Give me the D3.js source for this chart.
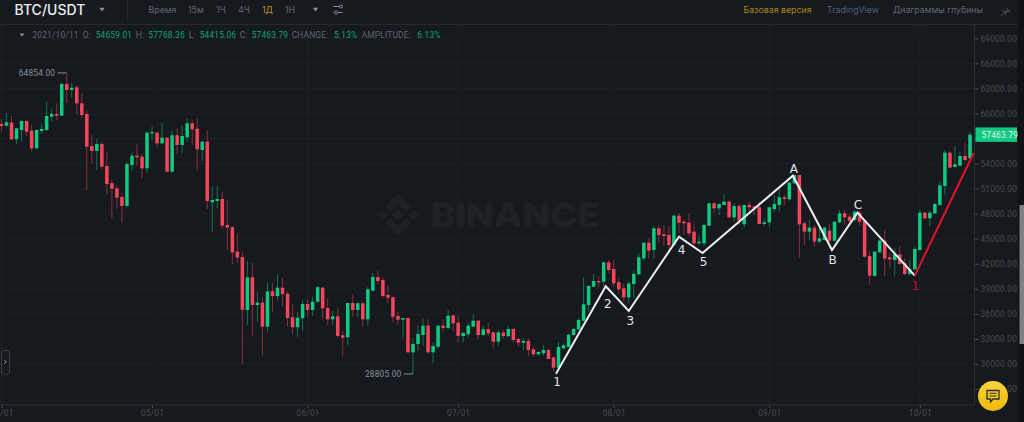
<!DOCTYPE html>
<html>
<head>
<meta charset="utf-8">
<script src="https://cdn.jsdelivr.net/npm/d3@7"></script>
<style>
html, body { margin: 0; padding: 0; background: #161a1e; overflow: hidden; }
svg { display: block; }
text { font-family: Inter, "Noto Sans", sans-serif; }
.wave { font-family: "DejaVu Sans", sans-serif; font-size: 12px; text-anchor: middle; dominant-baseline: central; }
.num { font-family: Roboto, sans-serif; font-size: 8.4px; letter-spacing: 0.02em; }
</style>
</head>
<body>
<div id="graphic"></div>
<script>
// daily candles, 2021/04/01 .. 2021/10/11
var firstDay = new Date(Date.UTC(2021, 3, 1));
var lastDay = new Date(Date.UTC(2021, 9, 11));
var open = [58739,58540,58899,56904,58021,59098,57941,55826,57901,58021,59617,59937,59737,63528,62810,63129,61214,59937,56105,55507,
56344,53711,51636,51037,49999,48922,53830,54948,54828,53431,57622,57702,56425,57103,53032,57383,56225,57143,58819,58181,
55626,56624,49360,49520,49760,46646,46366,43450,42800,36470,40380,37060,37350,34470,38700,38140,39140,38420,35590,34400,
35480,37190,36470,37460,39140,36710,35350,35710,33440,33200,37310,36470,37270,35350,38790,40420,40060,38260,37990,35750,
35310,35510,31400,32400,33470,34590,31400,32080,34590,34310,35830,34952,33356,33555,34473,35191,33475,34154,33795,32677,
33755,33316,34194,32996,32557,32757,31759,31160,31280,31679,30761,29564,31879,32038,33475,34154,35191,37067,39262,39941,
39861,42176,41378,39781,39063,37985,39581,40739,42655,44530,43653,46248,45529,45449,44252,47764,47046,46926,45848,44451,
44451,46567,49241,48642,49041,49440,47565,48921,46726,49041,48842,48762,46766,46966,48562,49041,49959,49720,51635,52633,
46846,45848,46327,44651,44850,45968,44770,46966,48043,47644,47245,48123,47125,42935,40540,43374,44771,42776,42456,43134,
42057,40780,41338,43653,48123,47444,48043,49041,51316,55307,53591,53751,54908,54659.01];
var high = [59298,60096,59697,58300,59178,59218,58620,58101,58819,61413,60615,61214,63688,64854,63688,63409,62411,60336,57422,56943,
56624,55427,52034,51316,50438,54230,55307,56345,55147,57822,58420,57822,58899,57103,57941,58221,58540,59418,59218,59418,
56704,57941,51236,51356,50638,49640,46520,45600,43500,42300,42060,38660,38060,39800,39700,40740,40260,38700,37150,36270,
37650,37780,38060,39380,39200,37780,36350,36750,33950,37310,38340,37400,37400,39250,40920,41180,40400,39420,38060,36290,
35510,35510,33080,34670,35470,35350,32560,34590,35350,36470,35830,35790,33870,34872,35870,35271,34553,34952,33875,34074,
34074,34553,34274,33156,33076,33076,32078,31520,32238,31759,30961,32677,32477,33595,34353,35470,40380,39462,40779,40460,
42256,42455,42455,40380,39661,39860,41178,43254,44530,45049,46527,46647,46647,46527,47843,48044,47325,48044,46847,45449,
46847,49321,49441,49241,50358,49640,49241,49161,49121,49441,49041,49441,47445,48842,50238,50917,50238,51835,52633,52633,
47046,47245,46647,46248,46447,46846,47046,48442,48442,47964,48442,48362,47245,43533,43534,44931,46048,43254,43853,44132,
42656,42456,44053,48442,48243,48340,49320,51835,55626,55428,56025,55427,56504,57768.36];
var low = [57821,58420,56824,56345,56624,57303,55427,55706,57542,57901,59098,59218,59697,61214,61892,59897,59418,50837,54030,53232,
53311,50358,47405,48562,46930,48762,53152,53711,52234,52912,56824,55946,56345,52952,52833,55107,55227,56624,56225,53311,
54309,48522,45848,48641,46167,43640,41940,42130,30000,34670,33360,35070,31000,33870,36270,37670,36950,34470,33470,33270,
34000,35550,35780,37350,35400,34670,34670,33200,30880,32300,35670,35600,34470,34590,38660,39570,37970,37270,34990,34670,
33200,31280,28805,31590,32200,31200,30080,31890,33870,34160,33870,32557,32557,33156,34393,32996,33356,33356,31879,32158,
33076,33276,32597,32078,31599,30961,30881,31041,30961,30562,29125,29445,31759,31998,33356,34074,35072,36269,39182,39182,
39262,40859,39262,38464,37466,37266,37865,40659,42375,42655,42655,44451,44132,43653,44252,45649,45449,45250,44252,44252,
44132,46527,48043,47845,48961,47445,47046,46647,46248,48043,47845,46726,46527,46368,48243,48243,49041,49560,51555,42735,
44252,44850,44052,44451,44770,43853,44651,46846,46646,46527,47046,46646,42776,39463,40460,43254,40540,41458,40580,41857,
40660,40580,41258,43574,47324,46447,47964,48921,50238,53431,53511,53631,54229,54415.06];
var close = [58500,58939,56904,58220,59098,57821,55826,58021,58141,59697,59937,59737,63528,62810,63089,61214,59817,56025,55507,56344,
53631,51556,50997,49919,48922,53950,54948,54748,53431,57702,57782,56425,57103,53032,57383,56225,57303,58819,58101,55706,
56624,49520,49640,49760,46566,46326,43373,42740,36500,40380,37060,37350,34470,38700,38140,39140,38380,35510,34400,35550,
37190,36470,37460,39190,36670,35350,35710,33360,33160,37310,36470,37270,35350,38950,40420,39940,38140,37940,35670,35310,
35510,31400,32400,33600,34590,31400,32160,34590,34310,35780,34870,33356,33715,34593,35191,33475,34154,33675,32677,33795,
33356,34194,32877,32557,32757,31679,31160,31440,31679,30602,29564,32038,32238,33515,34194,35271,37147,39342,39941,39781,
42176,41258,39661,38943,37985,39661,40779,42774,44530,43573,46248,45449,45330,44252,47764,46926,46846,45649,44451,44651,
46647,49241,48642,49161,49440,47565,48921,47165,49041,48762,48642,46766,46966,48762,49161,49959,49760,51715,52633,46726,
45848,46327,44651,45050,46327,44770,47046,48043,47564,47125,48243,47046,42855,40580,43454,44771,42616,42536,43134,41977,
40780,41338,43773,48123,47444,48123,49161,51396,55307,53511,53910,54908,54429,57463.79];

var gridPrices = [69000,66000,63000,60000,57000,54000,51000,48000,45000,42000,39000,36000,33000,30000,27000];
// 57000.00 sits under the price tag in the picture, so it gets no label
var priceTicks = [69000,66000,63000,60000,54000,51000,48000,45000,42000,39000,36000,33000,30000,27000];
var monthTicks = ["2021-04-01","2021-05-01","2021-06-01","2021-07-01","2021-08-01","2021-09-01","2021-10-01"];

// zigzag drawn on top of the candles
var waveDates = ["2021-07-20T12:00Z","2021-07-30T10:00Z","2021-08-04T00:00Z","2021-08-14T00:00Z","2021-08-18T17:00Z","2021-09-05T17:00Z","2021-09-13T12:00Z","2021-09-18T14:00Z","2021-09-30T00:00Z"];
var wavePrices = [28842,39306,36350,45245,43290,52550,43650,48120,40575];
var waveNames = ["1","2","3","4","5","A","B","C","1"];
var redEndDate = "2021-10-11T17:00Z";
var redEndPrice = 55230;

var highest = 64854.00, lowest = 28805.00;

var infoLabels = ["O:","H:","L:","C:","CHANGE:","AMPLITUDE:"];
var infoValues = ["54659.01","57768.36","54415.06","57463.79","5.13%","6.13%"];

var W = 1024, H = 422;
var UP = "#0ecb81", DOWN = "#f6465d";
var axisColor = "#454a52", gridColor = "#1d2127";

var svg = d3.select("#graphic").append("svg").attr("width", W).attr("height", H);
svg.append("rect").attr("width", W).attr("height", H).attr("fill", "#161a1e");

var x = d3.scaleUtc().domain([firstDay, lastDay]).range([1.5, 970]);
var y = d3.scaleLinear().domain([69000, 30000]).range([38.3, 364]);
var axisX = 974.5, axisY = 405;

// grid
svg.append("g").selectAll("line").data(gridPrices).enter().append("line")
    .attr("x1", 0).attr("x2", axisX)
    .attr("y1", function(d) { return y(d); }).attr("y2", function(d) { return y(d); })
    .attr("stroke", gridColor);
svg.append("g").selectAll("line").data(monthTicks).enter().append("line")
    .attr("x1", function(d) { return x(new Date(d)); }).attr("x2", function(d) { return x(new Date(d)); })
    .attr("y1", 24).attr("y2", axisY)
    .attr("stroke", gridColor);

// watermark
var mark = svg.append("g").attr("fill", "#1e2227");
var logo = mark.append("g").attr("transform", "translate(398,215)");
logo.append("path").attr("d", "M-13,-8 L0,-21 L13,-8 L8,-3 L0,-11 L-8,-3 Z");
logo.append("path").attr("d", "M-13,8 L0,21 L13,8 L8,3 L0,11 L-8,3 Z");
logo.append("path").attr("d", "M-6,0 L0,-6 L6,0 L0,6 Z");
logo.append("path").attr("d", "M-21,0 L-16,-5 L-11,0 L-16,5 Z");
logo.append("path").attr("d", "M21,0 L16,-5 L11,0 L16,5 Z");
mark.append("text").attr("x", 431).attr("y", 227).attr("font-size", 33).attr("font-weight", 800)
    .attr("textLength", 169).attr("lengthAdjust", "spacingAndGlyphs").text("BINANCE");

// candles
var days = d3.range(open.length);
var dayDate = function(i) { return d3.utcDay.offset(firstDay, i); };
var candleColor = function(i) { return close[i] >= open[i] ? UP : DOWN; };
svg.append("g").selectAll("line").data(days).enter().append("line")
    .attr("x1", function(i) { return x(dayDate(i)); }).attr("x2", function(i) { return x(dayDate(i)); })
    .attr("y1", function(i) { return y(high[i]); }).attr("y2", function(i) { return y(low[i]); })
    .attr("stroke", candleColor).attr("stroke-width", 1).attr("stroke-opacity", 0.5);
svg.append("g").selectAll("rect").data(days).enter().append("rect")
    .attr("x", function(i) { return x(dayDate(i)) - 1.75; }).attr("width", 3.5)
    .attr("y", function(i) { return y(Math.max(open[i], close[i])); })
    .attr("height", function(i) { return Math.max(1, Math.abs(y(open[i]) - y(close[i]))); })
    .attr("fill", candleColor);

// high / low markers
function extremeLabel(price, i, label) {
    var px = x(dayDate(i)), py = y(price);
    svg.append("line").attr("x1", px - 9).attr("x2", px).attr("y1", py).attr("y2", py)
        .attr("stroke", "#848e9c").attr("stroke-width", 1);
    svg.append("text").attr("class", "num").attr("x", px - 11.5).attr("y", py).attr("dy", "0.35em").attr("text-anchor", "end")
        .attr("fill", "#848e9c").text(label);
}
extremeLabel(highest, high.indexOf(highest), d3.format(".2f")(highest));
extremeLabel(lowest, low.indexOf(lowest), d3.format(".2f")(lowest));

// axes
var yAxis = svg.append("g").attr("transform", "translate(" + axisX + ",0)")
    .call(d3.axisRight(y).tickValues(priceTicks).tickFormat(d3.format(".2f")).tickSize(4).tickPadding(2));
var xAxis = svg.append("g").attr("transform", "translate(0," + axisY + ")")
    .call(d3.axisBottom(x).tickValues(monthTicks.map(function(d) { return new Date(d); }))
        .tickFormat(d3.utcFormat("%m/%d")).tickSize(3).tickPadding(2));
[yAxis, xAxis].forEach(function(a) {
    a.select(".domain").remove();
    a.selectAll("line").attr("stroke", axisColor);
    a.selectAll("text").attr("fill", axisColor).attr("class", "num").attr("font-size", null);
});
svg.append("line").attr("x1", axisX).attr("x2", axisX).attr("y1", 24).attr("y2", axisY).attr("stroke", "#2b3036");
svg.append("line").attr("x1", 0).attr("x2", axisX).attr("y1", axisY).attr("y2", axisY).attr("stroke", "#2b3036");

// current price tag
var lastY = y(close[close.length - 1]);
svg.append("rect").attr("x", 975.5).attr("y", lastY - 7.2).attr("width", 41.5).attr("height", 14.4).attr("fill", UP);
svg.append("text").attr("class", "num").attr("x", 981.5).attr("y", lastY).attr("dy", "0.35em")
    .attr("fill", "#eaecef").text(d3.format(".2f")(close[close.length - 1]));

// zigzag
var line = d3.line().x(function(d) { return x(new Date(d[0])); }).y(function(d) { return y(d[1]); });
var wavePts = waveDates.map(function(d, i) { return [d, wavePrices[i]]; });
svg.append("path").attr("d", line(wavePts)).attr("fill", "none")
    .attr("stroke", "#eeeeee").attr("stroke-width", 2).attr("stroke-linejoin", "miter");
svg.append("path").attr("d", line([wavePts[wavePts.length - 1], [redEndDate, redEndPrice]])).attr("fill", "none")
    .attr("stroke", "#e8112d").attr("stroke-width", 2);
var waveOffsets = [[1, 8.5], [2, 17.5], [1.5, 10.5], [2.5, 13.5], [1, 9], [1, -7], [0.5, 10], [0.5, -8], [0.5, 10.5]];
svg.append("g").selectAll("text").data(waveNames).enter().append("text")
    .attr("class", "wave")
    .attr("x", function(d, i) { return x(new Date(waveDates[i])) + waveOffsets[i][0]; })
    .attr("y", function(d, i) { return y(wavePrices[i]) + waveOffsets[i][1]; })
    .attr("fill", function(d, i) { return i == waveNames.length - 1 ? "#c8102e" : "#e4e4e4"; })
    .text(function(d) { return d; });

// toolbar
svg.append("rect").attr("width", W).attr("height", 24).attr("fill", "#161a1e");
svg.append("line").attr("x1", 0).attr("x2", 1018).attr("y1", 24.5).attr("y2", 24.5).attr("stroke", "#262a30");
svg.append("line").attr("x1", 127.5).attr("x2", 127.5).attr("y1", 0).attr("y2", 21).attr("stroke", "#23272d");
function tbText(tx, label, color, size, weight) {
    svg.append("text").attr("x", tx).attr("y", 10).attr("dy", "0.36em").attr("font-size", size || 8.8)
        .attr("font-weight", weight || 400).attr("fill", color).text(label);
}
function tri(cx, cy, r, color) {
    svg.append("path").attr("d", "M" + (cx - r) + "," + (cy - r * 0.6) + " L" + (cx + r) + "," + (cy - r * 0.6) + " L" + cx + "," + (cy + r * 0.7) + " Z").attr("fill", color);
}
tbText(14.5, "BTC/USDT", "#eaecef", 14, 500);
tri(102, 9.5, 2.8, "#848e9c");
tbText(148.5, "Время", "#5e6673");
tbText(188, "15м", "#5e6673");
tbText(216, "1Ч", "#5e6673");
tbText(238, "4Ч", "#5e6673");
tbText(262, "1Д", "#b8941f");
tbText(285, "1Н", "#5e6673");
tri(315.5, 9.5, 2.8, "#848e9c");
var gear = svg.append("g").attr("stroke", "#848e9c").attr("fill", "#161a1e").attr("stroke-width", 1);
[[6.5, 341], [12.5, 336]].forEach(function(p) {
    gear.append("line").attr("x1", 333.5).attr("x2", 342.5).attr("y1", p[0]).attr("y2", p[0]);
    gear.append("circle").attr("cx", p[1]).attr("cy", p[0]).attr("r", 1.5);
});
tbText(743.5, "Базовая версия", "#a88618");
tbText(827, "TradingView", "#4c5f80");
tbText(893, "Диаграммы глубины", "#5e6673");
var shrink = svg.append("g").attr("stroke", "#474d57").attr("fill", "none").attr("stroke-width", 1);
shrink.append("path").attr("d", "M1001,16 L1005,12 M1002,11 L1005.5,11 L1005.5,14.5");
shrink.append("path").attr("d", "M1010,9 L1006.5,12.5 M1007,8.5 L1007,12 L1010.5,12");
shrink.selectAll("path").attr("stroke-linecap", "round");

// info row
tri(22, 35, 2.4, "#848e9c");
var infoY = 35;
function infoText(tx, label, color) {
    svg.append("text").attr("class", "num").attr("x", tx).attr("y", infoY).attr("dy", "0.36em").attr("fill", color).text(label);
}
infoText(32.5, "2021/10/11", "#5e6673");
var labelX = [82.7, 135.7, 188.7, 239.7, 291.7, 361.7];
var valueX = [95.7, 148.3, 199.7, 251.7, 334, 417.3];
infoLabels.forEach(function(l, i) {
    infoText(labelX[i], l, "#5e6673");
    infoText(valueX[i], infoValues[i], "#0ba56d");
});

// left handle
svg.append("rect").attr("x", 1.5).attr("y", 350.5).attr("width", 8).attr("height", 23.5).attr("rx", 2)
    .attr("fill", "#161a1e").attr("stroke", "#3a3f46");
svg.append("path").attr("d", "M4.2,359.8 L6.2,361.8 L4.2,363.8").attr("fill", "none").attr("stroke", "#848e9c").attr("stroke-width", 1);

// right strip and scrollbar
svg.append("rect").attr("x", 1018).attr("y", 0).attr("width", 6).attr("height", H).attr("fill", "#101316");
svg.append("rect").attr("x", 1019.5).attr("y", 205).attr("width", 4.5).attr("height", 139).attr("fill", "#7f8185");

// help button
var grad = svg.append("defs").append("linearGradient").attr("id", "btn").attr("x1", 0).attr("y1", 0).attr("x2", 0).attr("y2", 1);
grad.append("stop").attr("offset", "0%").attr("stop-color", "#f8d33a");
grad.append("stop").attr("offset", "100%").attr("stop-color", "#f0b90b");
svg.append("circle").attr("cx", 993).attr("cy", 396).attr("r", 15).attr("fill", "url(#btn)");
svg.append("path").attr("d", "M987,390.5 H999 V399 H993 L990.5,402 V399 H987 Z").attr("fill", "none").attr("stroke", "#2b2f36").attr("stroke-width", 1.3);
svg.append("path").attr("d", "M989.5,393.3 H996.5 M989.5,396 H996.5").attr("stroke", "#2b2f36").attr("stroke-width", 1);
</script>
</body>
</html>
